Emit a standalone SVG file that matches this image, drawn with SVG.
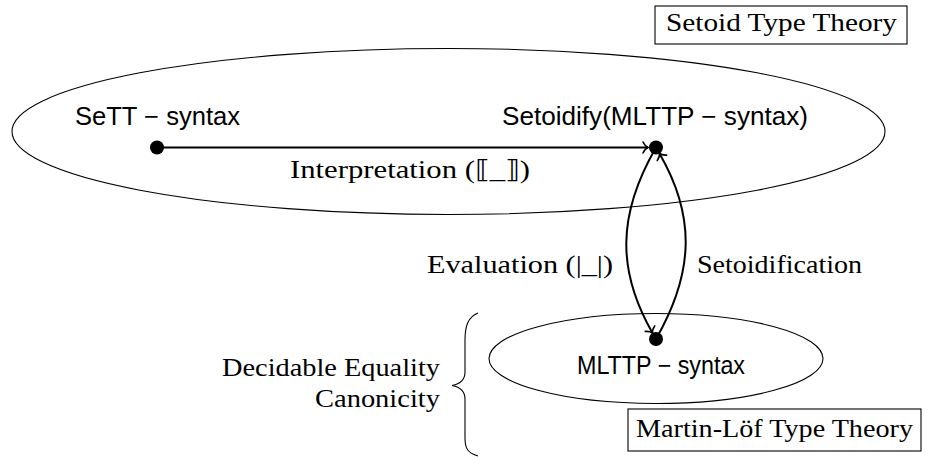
<svg xmlns="http://www.w3.org/2000/svg" width="929" height="457" viewBox="0 0 929 457">
<style>
.serif{font-family:"Liberation Serif","DejaVu Serif",serif;font-size:25px;fill:#000}
.sans{font-family:"Liberation Sans","DejaVu Sans",sans-serif;font-size:25px;fill:#000}
.thin{fill:none;stroke:#000;stroke-width:1.1}
.edge{fill:none;stroke:#000;stroke-width:2}
.dot{fill:#000}
</style>
<defs>
<marker id="arr" markerUnits="userSpaceOnUse" viewBox="-7 -7 8 14" markerWidth="8" markerHeight="14" refX="0" refY="0" orient="auto" overflow="visible">
<path d="M-5,-5.5 C-3.5,-2.5 -1.5,-0.6 0,0 C-1.5,0.6 -3.5,2.5 -5,5.5" fill="none" stroke="#000" stroke-width="1.6" stroke-linecap="round"/>
</marker>
</defs>
<g id="setoid-type-theory-region">
<ellipse class="thin" cx="448.5" cy="131.5" rx="436.5" ry="83"/>
<rect class="thin" x="655" y="6" width="252" height="38"/>
<text class="serif" x="666" y="31" textLength="231" lengthAdjust="spacingAndGlyphs">Setoid Type Theory</text>
</g>
<g id="mltt-region">
<ellipse class="thin" cx="656" cy="358.5" rx="167" ry="45"/>
<rect class="thin" x="628" y="409" width="293" height="42"/>
<text class="serif" x="636" y="437" textLength="277" lengthAdjust="spacingAndGlyphs">Martin-Löf Type Theory</text>
</g>
<g id="sett-syntax">
<text class="sans" x="75" y="125" textLength="165" lengthAdjust="spacingAndGlyphs">SeTT − syntax</text>
<circle class="dot" cx="157" cy="147.5" r="7"/>
</g>
<g id="setoidify-syntax">
<text class="sans" x="502" y="125" textLength="306" lengthAdjust="spacingAndGlyphs">Setoidify(MLTTP − syntax)</text>
<circle class="dot" cx="656" cy="147.5" r="7"/>
</g>
<g id="mlttp-syntax">
<text class="sans" x="577" y="374" textLength="168" lengthAdjust="spacingAndGlyphs">MLTTP − syntax</text>
<circle class="dot" cx="656" cy="339" r="7"/>
</g>
<g id="properties">
<path class="thin" d="M478,313 C468,317 465,326 465,340 L465,372 C465,380 460,384 452,385.5 C460,387 465,391 465,399 L465,438 C465,449 468,453 478,456"/>
<text class="serif" x="440" y="376" text-anchor="end" textLength="218" lengthAdjust="spacingAndGlyphs">Decidable Equality</text>
<text class="serif" x="440" y="407" text-anchor="end" textLength="125" lengthAdjust="spacingAndGlyphs">Canonicity</text>
</g>
<g id="connectors">
<path class="edge" d="M157,147.5 L648,147.5" marker-end="url(#arr)"/>
<path class="edge" d="M656,147.5 C617,215 617,271 652.5,333" marker-end="url(#arr)"/>
<path class="edge" d="M656,339 C695,271 695,215 659.5,153.5" marker-end="url(#arr)"/>
<text class="serif" x="290" y="178" textLength="240" lengthAdjust="spacingAndGlyphs">Interpretation (⟦_⟧)</text>
<text class="serif" x="427" y="273" textLength="186" lengthAdjust="spacingAndGlyphs">Evaluation (|_|)</text>
<text class="serif" x="697" y="273" textLength="165" lengthAdjust="spacingAndGlyphs">Setoidification</text>
</g>
</svg>
